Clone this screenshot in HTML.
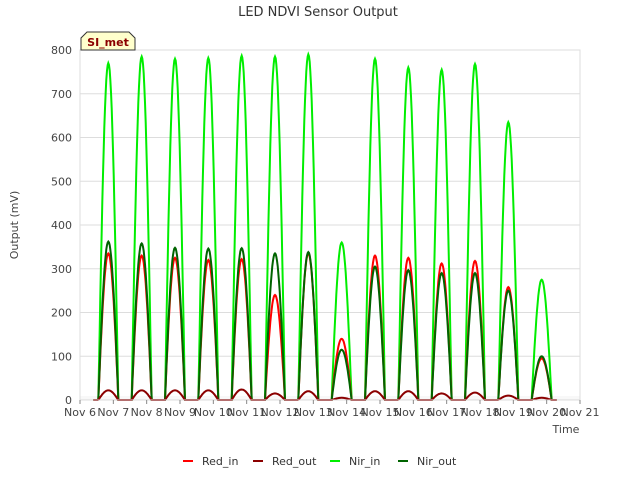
<!DOCTYPE html>
<html><head><meta charset="utf-8"><style>
body{margin:0;background:#fff;font-family:"Liberation Sans","DejaVu Sans",sans-serif}
</style></head><body>
<svg id="c" width="640" height="480" xmlns="http://www.w3.org/2000/svg" font-family="DejaVu Sans, Liberation Sans, sans-serif">
<text x="318" y="16" text-anchor="middle" font-size="13" fill="#333">LED NDVI Sensor Output</text>
<g id="grid"></g>
<g id="series"></g>
<g id="axes"></g>
<text x="18" y="225" transform="rotate(-90 18 225)" text-anchor="middle" font-size="11" fill="#444">Output (mV)</text>
<text x="566" y="433" text-anchor="middle" font-size="11" fill="#444">Time</text>
<g>
<path d="M81,50 L81,38 L87,32 L129,32 L135,38 L135,50 Z" fill="#ffffcc" stroke="#333"/>
<text x="108" y="46" text-anchor="middle" font-size="11" font-weight="bold" fill="#8b0000">SI_met</text>
</g>
<g id="legend"></g>
</svg>
<script>
const dayLabels=["Nov 6","Nov 7","Nov 8","Nov 9","Nov 10","Nov 11","Nov 12","Nov 13","Nov 14","Nov 15","Nov 16","Nov 17","Nov 18","Nov 19","Nov 20","Nov 21"];
const yTicks=[0,100,200,300,400,500,600,700,800];
const nirIn=[770,785,780,782,787,785,790,360,780,760,755,768,635,275];
const nirOut=[362,358,348,346,347,335,338,115,305,297,290,290,250,100];
const redIn=[335,330,325,320,322,240,335,140,330,325,312,318,258,95];
const redOut=[22,22,22,22,24,15,20,5,20,20,15,17,10,5];
const NS="http://www.w3.org/2000/svg";
const X0=80,X1=580,Y0=400,Y1=50;
const xs=d=>X0+(X1-X0)*d/15;
const ys=v=>Y0-(Y0-Y1)*v/800;
function mk(t,a,p){const e=document.createElementNS(NS,t);for(const k in a)e.setAttribute(k,a[k]);p.appendChild(e);return e;}
const grid=document.getElementById('grid');
for(let i=0;i<8;i++){if(i%2==1){const r=mk('rect',{x:X0,y:ys(i+1),width:X1-X0,height:ys(i)-ys(i+1),fill:'#efefef'},grid);

}}
const ax=document.getElementById('axes');
yTicks.forEach(v=>{const l=mk('line',{x1:X0,x2:X1,y1:ys(v),y2:ys(v),stroke:'#ddd'},grid);


const t=mk('text',{x:X0-8,y:ys(v)+4,'text-anchor':'end','font-size':11,fill:'#444'},ax);t.textContent=v;

});
mk('rect',{x:X0,y:Y1,width:X1-X0,height:Y0-Y1,fill:'none',stroke:'#ddd'},ax);
dayLabels.forEach((s,i)=>{mk('line',{x1:xs(i),x2:xs(i),y1:Y0,y2:Y0+4,stroke:'#888'},ax);
const t=mk('text',{x:xs(i),y:Y0+16,'text-anchor':'middle','font-size':11,fill:'#444'},ax);t.textContent=s;

});
const sg=document.getElementById('series');
function path(arr,color,name){let d='';
arr.forEach((pk,i)=>{const c=i+0.85;
if(i==0)d+='M'+xs(0.4)+','+ys(0);
d+=' L'+xs(c-0.3)+','+ys(0);
for(let k=0;k<=30;k++){const t=k/30;d+=' L'+xs(c-0.3+0.6*t).toFixed(1)+','+ys(pk*Math.pow(Math.sin(Math.PI*t),1.0)).toFixed(1);}
});
d+=' L'+xs(14.3)+','+ys(0);
const p=mk('path',{d:d,fill:'none',stroke:color,'stroke-width':2},sg);

}
path(nirIn,'#00ee00','nir-in-line');
path(redIn,'#ff0000','red-in-line');
path(nirOut,'#006400','nir-out-line');
path(redOut,'#8b0000','red-out-line');
const lg=document.getElementById('legend');
[['Red_in','#ff0000',183],['Red_out','#8b0000',253],['Nir_in','#00ee00',330],['Nir_out','#006400',398]].forEach(([n,c,x])=>{
const g=mk('g',{},lg);


mk('line',{x1:x,x2:x+10,y1:461,y2:461,stroke:c,'stroke-width':2},g);
const t=mk('text',{x:x+19,y:465,'font-size':11,fill:'#333'},g);t.textContent=n;});
</script>
</body></html>
